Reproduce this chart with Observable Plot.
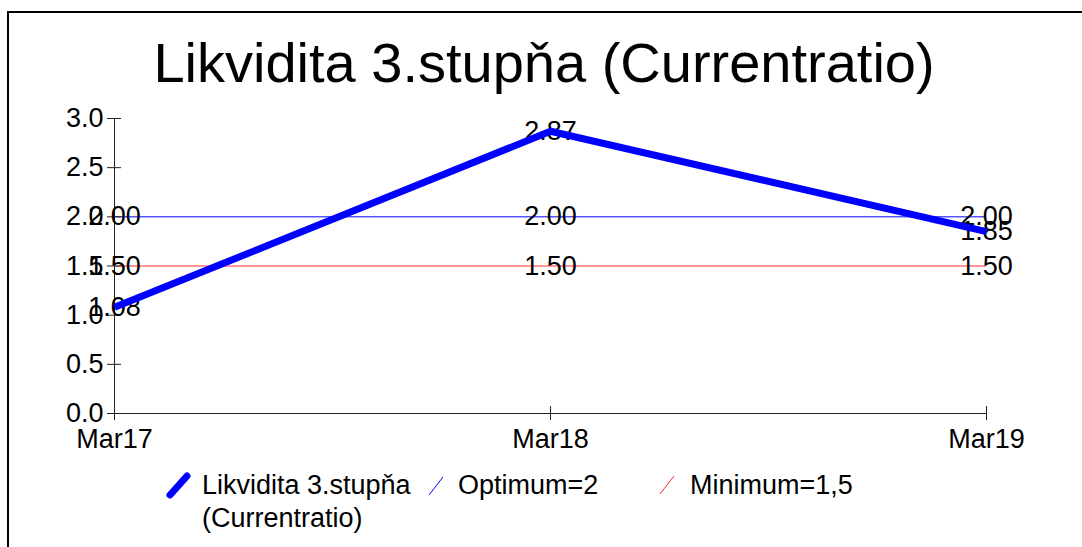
<!DOCTYPE html>
<html>
<head>
<meta charset="utf-8">
<script src="https://cdn.jsdelivr.net/npm/d3@7"></script>
<script src="https://cdn.jsdelivr.net/npm/@observablehq/plot@0.6"></script>
<style>
  html, body { margin: 0; padding: 0; background: #fff; }
  #wrap { position: relative; width: 1082px; height: 547px; overflow: hidden; font-family: "Liberation Sans", Arial, sans-serif; color: #000; }
  #frame { position: absolute; left: 7px; top: 11px; width: 1200px; height: 700px; border-left: 2px solid #000; border-top: 2px solid #000; box-sizing: border-box; }
  #chart { position: absolute; left: 0; top: 0; }
  #title { position: absolute; left: 0; width: 1088px; top: 34.6px; font-size: 56px; line-height: 56px; text-align: center; white-space: nowrap; }
  .lg { position: absolute; font-size: 27px; line-height: 33px; white-space: nowrap; }
  #lgsym { position: absolute; left: 0; top: 0; }
</style>
</head>
<body>
<div id="wrap">
  <div id="frame"></div>
  <div id="chart"></div>
  <div id="title"></div>
  <svg id="lgsym" width="1082" height="547"></svg>
  <div id="legend"></div>
</div>
<script>
const title = "Likvidita 3.stupňa (Currentratio)";
const periods = ["Mar17", "Mar18", "Mar19"];
const ratioValues = [1.08, 2.87, 1.85];
const optimumValue = 2;
const minimumValue = 1.5;
const yTicks = [0, 0.5, 1.0, 1.5, 2.0, 2.5, 3.0];
const seriesNames = ["Likvidita 3.stupňa\n(Currentratio)", "Optimum=2", "Minimum=1,5"];
const seriesColors = ["#0000ff", "#0000ff", "#ff2a2a"];

const ratio = periods.map((p, i) => ({period: p, value: ratioValues[i]}));
const optimum = periods.map(p => ({period: p, value: optimumValue}));
const minimum = periods.map(p => ({period: p, value: minimumValue}));

document.getElementById("title").textContent = title;

const fs = 27;
const chart = Plot.plot({
  width: 1082,
  height: 547,
  marginLeft: 114,
  marginRight: 96,
  marginTop: 118,
  marginBottom: 134,
  style: {fontFamily: "'Liberation Sans', Arial, sans-serif", fontSize: fs + "px", background: "transparent", color: "#000"},
  x: {type: "point", domain: periods, padding: 0, axis: null},
  y: {domain: [0, 3], axis: null},
  marks: [
    Plot.ruleY([optimumValue], {stroke: seriesColors[1], strokeWidth: 1}),
    Plot.ruleY([minimumValue], {stroke: seriesColors[2], strokeWidth: 1}),
    Plot.ruleX([periods[0]], {stroke: "#222", strokeWidth: 1}),
    Plot.ruleY([0], {stroke: "#222", strokeWidth: 1}),
    Plot.axisY(yTicks, {tickSize: 14, dx: 7, fill: "none", stroke: "#222", label: null}),
    Plot.axisY(yTicks, {tickSize: 0, tickPadding: 11, tickFormat: d => d.toFixed(1), fontSize: fs, fill: "#000", label: null}),
    Plot.axisX(periods, {tickSize: 14, dy: -7, fill: "none", stroke: "#222", label: null}),
    Plot.axisX(periods, {tickSize: 0, tickPadding: 15, fontSize: fs, fill: "#000", label: null}),
    Plot.text(optimum, {x: "period", y: "value", text: d => d.value.toFixed(2), fontSize: fs, fill: "#000"}),
    Plot.text(minimum, {x: "period", y: "value", text: d => d.value.toFixed(2), fontSize: fs, fill: "#000"}),
    Plot.text(ratio, {x: "period", y: "value", text: d => d.value.toFixed(2), fontSize: fs, fill: "#000"}),
    Plot.line(ratio, {x: "period", y: "value", stroke: seriesColors[0], strokeWidth: 7, strokeLinecap: "butt", strokeLinejoin: "miter"})
  ]
});
document.getElementById("chart").appendChild(chart);

// legend
const legendItems = [
  {x1: 170, y1: 495, x2: 187, y2: 476, w: 7, cap: "round", tx: 202},
  {x1: 429, y1: 495, x2: 443, y2: 477, w: 1, cap: "butt", tx: 458},
  {x1: 660, y1: 494, x2: 674, y2: 476, w: 1, cap: "butt", tx: 690}
];
const sym = d3.select("#lgsym");
const leg = document.getElementById("legend");
legendItems.forEach((it, i) => {
  sym.append("line").attr("x1", it.x1).attr("y1", it.y1).attr("x2", it.x2).attr("y2", it.y2)
    .attr("stroke", seriesColors[i]).attr("stroke-width", it.w).attr("stroke-linecap", it.cap);
  seriesNames[i].split("\n").forEach((line, j) => {
    const div = document.createElement("div");
    div.className = "lg";
    div.style.left = it.tx + "px";
    div.style.top = (469.2 + j * 33) + "px";
    div.textContent = line;
    leg.appendChild(div);
  });
});
</script>
</body>
</html>
